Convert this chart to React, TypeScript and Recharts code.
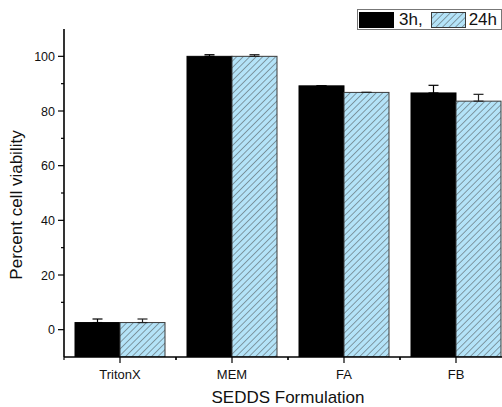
import React from 'react';
import { BarChart, Bar, XAxis, YAxis, ErrorBar } from 'recharts';

const formulations = ['TritonX', 'MEM', 'FA', 'FB'];
const viability3h = [2.6, 100, 89.2, 86.6];
const viability24h = [2.6, 100, 86.8, 83.6];
const err3h = [1.3, 0.6, 0, 2.8];
const err24h = [1.3, 0.6, 0, 2.5];
const yTicks = [0, 10, 20, 30, 40, 50, 60, 70, 80, 90, 100];
const yDomain = [-10, 110];

// error bars only go up (Origin "plus" direction)
const data = formulations.map((name, i) => ({
  name,
  h3: viability3h[i],
  h24: viability24h[i],
  h3Err: [0, err3h[i]],
  h24Err: [0, err24h[i]],
}));

const FONT = '"Liberation Sans", Arial, sans-serif';
const HATCH_BG = '#b4e3f8';

// bars run down to the bottom of the plot (axis starts at -10), like Origin
const makeShape = (key: string, fill: string, stroke: string) => (p: any) => {
  const v = p.payload ? p.payload[key] : 0;
  let bottom = p.y + p.height;
  if (p.background && p.background.height > p.height + 1) {
    bottom = p.background.y + p.background.height;
  } else if (v > 0) {
    bottom = p.y + p.height + (0 - yDomain[0]) * (p.height / v);
  }
  return (
    <rect
      x={p.x}
      y={p.y}
      width={p.width}
      height={Math.max(0, bottom - p.y)}
      fill={fill}
      stroke={stroke}
      strokeWidth={1}
    />
  );
};

const YTick = (props: any) => {
  const { x, y, payload } = props;
  const axisX = x + 8;
  const major = payload.value % 20 === 0;
  return (
    <g>
      <line x1={axisX - (major ? 6 : 3)} y1={y} x2={axisX} y2={y} stroke="#000" strokeWidth={1.2} />
      {major && (
        <text x={axisX - 9} y={y} dy={4.5} textAnchor="end" fontSize={12.5} fill="#111" fontFamily={FONT}>
          {payload.value}
        </text>
      )}
    </g>
  );
};

const XTick = (props: any) => {
  const { x, y, payload } = props;
  const half = payload.offset || 56;
  const axisY = y - 8;
  return (
    <g>
      <line x1={x} y1={axisY} x2={x} y2={axisY + 6} stroke="#000" strokeWidth={1.2} />
      <line x1={x - half} y1={axisY} x2={x - half} y2={axisY + 3} stroke="#000" strokeWidth={1.2} />
      <line x1={x + half} y1={axisY} x2={x + half} y2={axisY + 3} stroke="#000" strokeWidth={1.2} />
      <text x={x} y={axisY + 22} textAnchor="middle" fontSize={13} fill="#111" fontFamily={FONT}>
        {payload.value}
      </text>
    </g>
  );
};

const App: React.FC = () => {
  return (
    <div style={{ position: 'absolute', left: 0, top: 0, width: 502, height: 407, overflow: 'hidden', background: '#fff' }}>
      <BarChart
        width={520}
        height={407}
        data={data}
        margin={{ top: 29, right: 8, bottom: 20, left: 0 }}
        barCategoryGap={11}
        barGap={0}
      >
        <defs>
          <pattern id="hatch" patternUnits="userSpaceOnUse" width="4.6" height="4.6" patternTransform="rotate(45)">
            <rect width="4.6" height="4.6" fill={HATCH_BG} />
            <line x1="0" y1="0" x2="0" y2="4.6" stroke="#3c3c3c" strokeWidth={0.9} />
          </pattern>
        </defs>
        <Bar dataKey="h3" fill="#000" shape={makeShape('h3', '#000', '#000')} isAnimationActive={false}>
          <ErrorBar dataKey="h3Err" width={5} stroke="#000" strokeWidth={1.2} direction="y" />
        </Bar>
        <Bar dataKey="h24" fill="url(#hatch)" shape={makeShape('h24', 'url(#hatch)', '#3a3a3a')} isAnimationActive={false}>
          <ErrorBar dataKey="h24Err" width={5} stroke="#222" strokeWidth={1.2} direction="y" />
        </Bar>
        <XAxis
          dataKey="name"
          height={30}
          axisLine={{ stroke: '#000', strokeWidth: 1.6 }}
          tickLine={false}
          tickSize={6}
          tickMargin={2}
          tick={<XTick />}
          interval={0}
        />
        <YAxis
          width={64}
          domain={yDomain}
          ticks={yTicks}
          allowDataOverflow
          axisLine={{ stroke: '#000', strokeWidth: 1.6 }}
          tickLine={false}
          tickSize={6}
          tickMargin={2}
          tick={<YTick />}
        />
      </BarChart>

      <div
        style={{
          position: 'absolute',
          left: 17,
          top: 205,
          transform: 'translate(-50%, -50%) rotate(-90deg)',
          whiteSpace: 'nowrap',
          fontFamily: FONT,
          fontSize: 17,
          color: '#111',
        }}
      >
        Percent cell viability
      </div>
      <div
        style={{
          position: 'absolute',
          left: 288,
          top: 398,
          transform: 'translate(-50%, -50%)',
          whiteSpace: 'nowrap',
          fontFamily: FONT,
          fontSize: 17,
          color: '#111',
        }}
      >
        SEDDS Formulation
      </div>

      <div
        style={{
          position: 'absolute',
          left: 357,
          top: 9,
          width: 143,
          height: 19,
          border: '1px solid #777',
          display: 'flex',
          alignItems: 'center',
          fontFamily: FONT,
          fontSize: 17,
          color: '#111',
          background: '#fff',
        }}
      >
        <div style={{ width: 35, height: 16, background: '#000', marginLeft: 1 }} />
        <span style={{ marginLeft: 5 }}>3h,</span>
        <svg width={35} height={16} style={{ marginLeft: 8 }}>
          <rect x={0.5} y={0.5} width={34} height={15} fill="url(#hatch)" stroke="#3a3a3a" strokeWidth={1} />
        </svg>
        <span style={{ marginLeft: 3 }}>24h</span>
      </div>
    </div>
  );
};

export default App;
